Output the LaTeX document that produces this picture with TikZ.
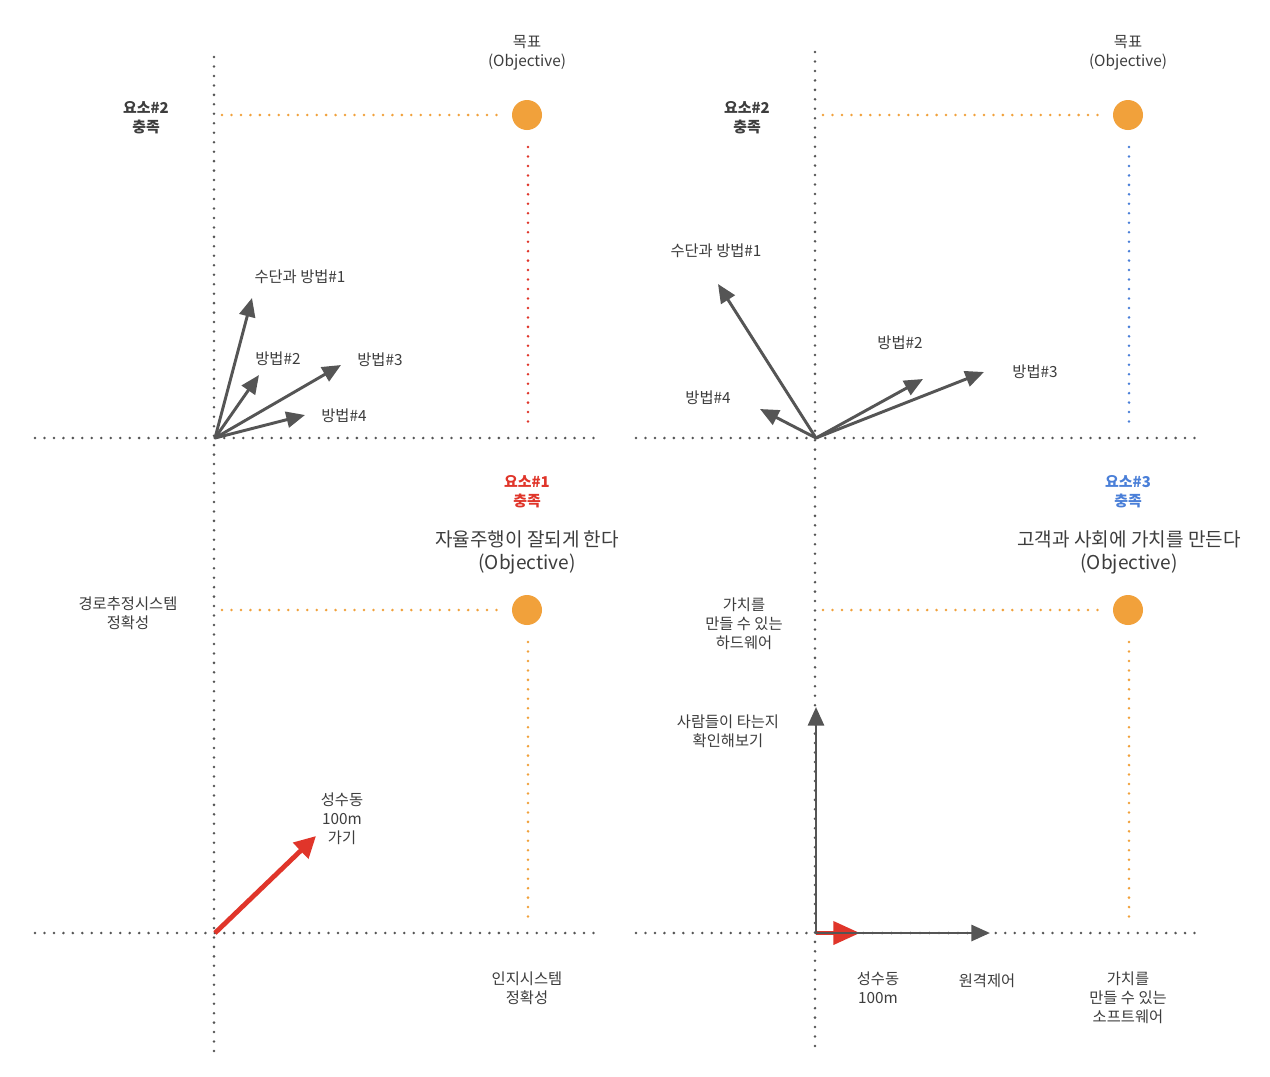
\documentclass[tikz,border=0pt]{standalone}
\usepackage{fontspec}
\setmainfont{Noto Sans CJK KR}
\usetikzlibrary{arrows.meta}
\definecolor{txt}{HTML}{3D3D3D}
\definecolor{axis}{HTML}{555555}
\definecolor{org}{HTML}{F1A13B}
\definecolor{redc}{HTML}{E0352A}
\definecolor{bluec}{HTML}{4A7FD8}
\definecolor{arr}{HTML}{555555}
\tikzset{
  dots/.style={line width=2.1pt, line cap=round, dash pattern=on 0pt off 7.1pt},
  axisline/.style={dots, draw=axis},
  orgline/.style={dots, draw=org},
  redline/.style={dots, draw=redc},
  blueline/.style={dots, draw=bluec},
  goal/.style={circle, fill=org, minimum size=22.5pt, inner sep=0pt},
  lbl/.style={text=txt, align=center, inner sep=0pt, font=\fontsize{11.5}{14.25}\selectfont},
  big/.style={text=txt, align=center, inner sep=0pt, font=\fontsize{14.3}{17.25}\selectfont},
  boldlbl/.style={align=center, inner sep=0pt, font=\fontsize{11.2}{14.25}\selectfont\bfseries},
  garrow/.style={draw=arr, line width=2.2pt, -{Triangle[length=14pt,width=12pt]}},
  rarrow/.style={draw=redc, line width=3.6pt, -{Triangle[length=16pt,width=16pt]}}
}
\begin{document}
\begin{tikzpicture}[x=0.75pt,y=-0.75pt]
\useasboundingbox (0,0) rectangle (1270,1076);
\fill[white] (0,0) rectangle (1270,1076);

% axes
\coordinate (vlA) at (214,57); \coordinate (vlB) at (214,1052);
\coordinate (vrA) at (815,52); \coordinate (vrB) at (815,1050);
\coordinate (h1A) at (35,438); \coordinate (h1B) at (594,438);
\coordinate (h2A) at (636,438); \coordinate (h2B) at (1195,438);
\coordinate (h3A) at (35,933); \coordinate (h3B) at (594,933);
\coordinate (h4A) at (636,933); \coordinate (h4B) at (1195,933);
\draw[axisline] (vlA) -- (vlB);
\draw[axisline] (vrA) -- (vrB);
\draw[axisline] (h1A) -- (h1B);
\draw[axisline] (h2A) -- (h2B);
\draw[axisline] (h3A) -- (h3B);
\draw[axisline] (h4A) -- (h4B);

% goals
\node[goal] (g1) at (527,115) {};
\node[goal] (g2) at (1128,115) {};
\node[goal] (g3) at (527,610) {};
\node[goal] (g4) at (1128,610) {};

\coordinate (o1a) at (222,115); \coordinate (o1b) at (502,115);
\coordinate (o2a) at (823,115); \coordinate (o2b) at (1103,115);
\coordinate (o3a) at (222,610); \coordinate (o3b) at (502,610);
\coordinate (o4a) at (823,610); \coordinate (o4b) at (1103,610);
\draw[orgline] (o1a) -- (o1b);
\draw[orgline] (o2a) -- (o2b);
\draw[orgline] (o3a) -- (o3b);
\draw[orgline] (o4a) -- (o4b);

\coordinate (d1a) at (528,147); \coordinate (d1b) at (528,425);
\coordinate (d2a) at (1129,147); \coordinate (d2b) at (1129,425);
\coordinate (d3a) at (528,642); \coordinate (d3b) at (528,920);
\coordinate (d4a) at (1129,642); \coordinate (d4b) at (1129,920);
\draw[redline] (d1a) -- (d1b);
\draw[blueline] (d2a) -- (d2b);
\draw[orgline] (d3a) -- (d3b);
\draw[orgline] (d4a) -- (d4b);

% top-left arrows
\coordinate (O1) at (215,438);
\coordinate (a11) at (252,298);
\coordinate (a12) at (259,375);
\coordinate (a13) at (341,365);
\coordinate (a14) at (305,415);
\draw[garrow] (O1) -- (a11);
\draw[garrow] (O1) -- (a12);
\draw[garrow] (O1) -- (a13);
\draw[garrow] (O1) -- (a14);

% top-right arrows
\coordinate (O2) at (816,438);
\coordinate (a21) at (718,284);
\coordinate (a22) at (923,379);
\coordinate (a23) at (984,372);
\coordinate (a24) at (760,409);
\draw[garrow] (O2) -- (a21);
\draw[garrow] (O2) -- (a22);
\draw[garrow] (O2) -- (a23);
\draw[garrow] (O2) -- (a24);

% bottom-left red arrow
\coordinate (O3) at (215,933);
\coordinate (a31) at (316,836);
\draw[rarrow] (O3) -- (a31);

% bottom-right arrows
\coordinate (O4) at (816,933);
\coordinate (a41) at (816,707);
\coordinate (a42) at (990,933);
\coordinate (a43) at (860,933);
\draw[rarrow, -{Triangle[length=20pt,width=17pt]}] (O4) -- (a43);
\draw[garrow] (O4) -- (a41);
\draw[garrow] (O4) -- (a42);

% texts top-left
\node[lbl] (t1) at (527,53) {목표\\(Objective)};
\node[boldlbl, text=txt] (t2) at (146,118) {요소\#2\\충족};
\node[lbl] (t3) at (300,277) {수단과 방법\#1};
\node[lbl] (t4) at (278,359) {방법\#2};
\node[lbl] (t5) at (380,360) {방법\#3};
\node[lbl] (t6) at (344,416) {방법\#4};

% texts top-right
\node[lbl] (u1) at (1128,53) {목표\\(Objective)};
\node[boldlbl, text=txt] (u2) at (747,118) {요소\#2\\충족};
\node[lbl] (u3) at (716,251) {수단과 방법\#1};
\node[lbl] (u4) at (900,343) {방법\#2};
\node[lbl] (u5) at (1035,372) {방법\#3};
\node[lbl] (u6) at (708,398) {방법\#4};

% texts bottom-left
\node[boldlbl, text=redc] (v1) at (527,492) {요소\#1\\충족};
\node[big] (v2) at (527,552) {자율주행이 잘되게 한다\\(Objective)};
\node[lbl] (v3) at (128,613) {경로추정시스템\\정확성};
\node[lbl] (v4) at (342,819) {성수동\\100m\\가기};
\node[lbl] (v5) at (527,988) {인지시스템\\정확성};

% texts bottom-right
\node[boldlbl, text=bluec] (w1) at (1128,492) {요소\#3\\충족};
\node[big] (w2) at (1129,552) {고객과 사회에 가치를 만든다\\(Objective)};
\node[lbl] (w3) at (744,624) {가치를\\만들 수 있는\\하드웨어};
\node[lbl] (w4) at (728,731) {사람들이 타는지\\확인해보기};
\node[lbl] (w5) at (878,988) {성수동\\100m};
\node[lbl] (w6) at (987,981) {원격제어};
\node[lbl] (w7) at (1128,998) {가치를\\만들 수 있는\\소프트웨어};
\end{tikzpicture}
\end{document}
